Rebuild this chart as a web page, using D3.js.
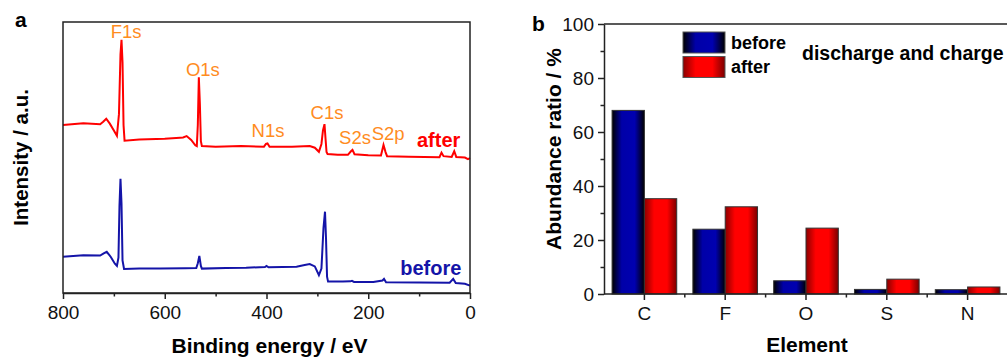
<!DOCTYPE html>
<html>
<head>
<meta charset="utf-8">
<script src="https://cdn.jsdelivr.net/npm/d3@7"></script>
<style>
  body { margin: 0; background: #fff; }
  svg { display: block; font-family: "Liberation Sans", Arial, sans-serif; }
</style>
</head>
<body>
<svg id="chart" width="1007" height="357"></svg>
<script>
// ---- panel a: XPS survey spectra, [binding energy (eV), intensity (a.u.)]
const afterSpectrum = [
  [800, 62.0], [760, 62.6], [727, 62.3], [721, 63.2], [715, 64.3], [708, 62.5], [700, 60.0],
  [694, 58.0], [690, 66], [687, 88], [685, 93.4], [683, 85], [681, 62], [679, 56.2],
  [650, 56.6], [600, 56.9], [570, 57.3], [564, 57.4], [557, 57.9], [548, 56.5], [540, 54.5],
  [537, 54.2], [535, 62], [533, 79.6], [531, 70], [529, 56], [527, 54.2], [500, 54.0],
  [450, 54.2], [405, 54.0], [401, 55.0], [398, 55.2], [394, 54.0], [350, 54.0], [315, 54.2],
  [305, 53.6], [297, 52.1], [292, 55], [289, 60], [286, 62.3], [284, 57], [282, 52], [280, 51.3],
  [260, 51.0], [240, 51.0], [234, 52.3], [231, 52.8], [227, 51.2], [200, 50.8], [175, 50.7],
  [170, 54.6], [166, 52], [163, 50.5], [120, 50.3], [60, 50.1], [56, 51.8], [52, 50.5],
  [36, 50.2], [31, 52.3], [27, 50.2], [10, 50.0], [4, 49.4], [0, 49.8]
];
const beforeSpectrum = [
  [800, 13.4], [760, 13.9], [727, 13.8], [720, 14.6], [714, 15.2], [706, 13.3], [698, 10.8],
  [694, 10.0], [691, 13], [689, 32], [687, 42.1], [685, 33], [683, 12], [680, 8.9],
  [650, 9.0], [609, 9.0], [560, 9.1], [538, 9.2], [535, 11], [532, 13.7], [529, 10], [527, 9.0],
  [480, 9.2], [440, 9.3], [403, 9.6], [400, 10.0], [396, 9.5], [341, 9.7], [325, 10.3],
  [315, 10.7], [305, 9.8], [297, 6.6], [292, 9], [288, 24], [285, 30], [283, 20], [281, 6],
  [279, 4.2], [250, 4.2], [235, 4.3], [232, 4.5], [228, 4.1], [190, 4.1], [172, 4.6],
  [169, 5.2], [165, 4.0], [100, 3.9], [40, 3.8], [33, 5.2], [28, 3.7], [10, 3.4], [0, 2.7]
];
// peak name, label centre (eV), label baseline (a.u.)
const peakLabels = [
  ['F1s', 676, 94], ['O1s', 525, 80], ['N1s', 397, 57.7],
  ['C1s', 281, 64.1], ['S2s', 226, 55], ['S2p', 161, 56.5]
];
const energyTicks = [800, 600, 400, 200, 0];
const energyMinorTicks = [700, 500, 300, 100];

// ---- panel b: element abundance
const elements = ['C', 'F', 'O', 'S', 'N'];
const seriesNames = ['before', 'after'];
const beforeRatio = [68.0, 24.0, 4.9, 1.7, 1.6];
const afterRatio = [35.3, 32.3, 24.4, 5.5, 2.6];
const ratioTicks = [0, 20, 40, 60, 80, 100];
const ratioMinorTicks = [10, 30, 50, 70, 90];

const svg = d3.select('#chart');
const axisColor = '#222';
const blue = '#1414a8';
const red = '#ff0000';
const orange = '#ff8c1e';

// gradients for the bars (dark edges, bright centre)
const defs = svg.append('defs');
const gradients = [
  ['grad-before', ['#000000', '#0000a8', '#0000b0', '#000000']],
  ['grad-after', ['#8c0000', '#ff0000', '#ff0000', '#7a0000']]
];
gradients.forEach(([id, colors]) => {
  const g = defs.append('linearGradient').attr('id', id)
    .attr('x1', '0%').attr('x2', '100%').attr('y1', '0%').attr('y2', '0%');
  [0, 0.3, 0.7, 1].forEach((o, i) => g.append('stop').attr('offset', o).attr('stop-color', colors[i]));
});

// ================= panel a =================
const a = { left: 63, right: 470, top: 22, bottom: 293 };
const xA = d3.scaleLinear().domain([800, 0]).range([a.left, a.right]);
const yA = d3.scaleLinear().domain([0, 100]).range([a.bottom, a.top]);

const line = d3.line().x((d) => xA(d[0])).y((d) => yA(d[1]));

svg.append('path').datum(afterSpectrum)
  .attr('fill', 'none').attr('stroke', red).attr('stroke-width', 2).attr('d', line);
svg.append('path').datum(beforeSpectrum)
  .attr('fill', 'none').attr('stroke', blue).attr('stroke-width', 2).attr('d', line);

// frame
svg.append('rect')
  .attr('x', a.left).attr('y', a.top)
  .attr('width', a.right - a.left).attr('height', a.bottom - a.top)
  .attr('fill', 'none').attr('stroke', axisColor).attr('stroke-width', 1.5);

svg.append('g').attr('transform', `translate(0,${a.bottom})`)
  .call(d3.axisBottom(xA).tickValues(energyTicks).tickSize(6).tickSizeOuter(0).tickPadding(7));
svg.append('g').attr('transform', `translate(0,${a.bottom})`)
  .call(d3.axisBottom(xA).tickValues(energyMinorTicks).tickSize(3.5).tickSizeOuter(0).tickFormat(''))
  .select('.domain').remove();

// peak labels
svg.append('g').selectAll('text').data(peakLabels).enter().append('text')
  .attr('x', (d) => xA(d[1])).attr('y', (d) => yA(d[2]))
  .attr('text-anchor', 'middle').attr('fill', orange)
  .style('font-size', '18.5px').text((d) => d[0]);

svg.append('text').attr('x', xA(19)).attr('y', yA(54)).attr('text-anchor', 'end')
  .attr('fill', red).style('font-size', '20px').style('font-weight', 'bold').text('after');
svg.append('text').attr('x', xA(17)).attr('y', yA(6.6)).attr('text-anchor', 'end')
  .attr('fill', blue).style('font-size', '20px').style('font-weight', 'bold').text('before');

svg.append('text').attr('x', (a.left + a.right) / 2 + 3).attr('y', 353).attr('text-anchor', 'middle')
  .style('font-size', '21px').style('font-weight', 'bold').text('Binding energy / eV');
svg.append('text').attr('transform', `translate(28,${(a.top + a.bottom) / 2}) rotate(-90)`)
  .attr('text-anchor', 'middle').style('font-size', '20.5px').style('font-weight', 'bold')
  .text('Intensity / a.u.');
svg.append('text').attr('x', 15).attr('y', 27).style('font-size', '21px').style('font-weight', 'bold').text('a');

// ================= panel b =================
const b = { left: 604, right: 1008, top: 24, bottom: 294 };
const xB = d3.scaleBand().domain(elements).range([b.left, b.right]).paddingInner(0.2).paddingOuter(0.1);
const xSeries = d3.scaleBand().domain(seriesNames).range([0, xB.bandwidth()]);
const yB = d3.scaleLinear().domain([0, 100]).range([b.bottom, b.top]);

const rows = elements.map((el, i) => ({ el, before: beforeRatio[i], after: afterRatio[i] }));

const groups = svg.append('g').selectAll('g').data(rows).enter().append('g')
  .attr('transform', (d) => `translate(${xB(d.el)},0)`);
groups.selectAll('rect').data((d) => seriesNames.map((s) => ({ s, v: d[s] }))).enter().append('rect')
  .attr('x', (d) => xSeries(d.s)).attr('width', xSeries.bandwidth())
  .attr('y', (d) => yB(d.v)).attr('height', (d) => yB(0) - yB(d.v))
  .attr('fill', (d) => `url(#grad-${d.s})`).attr('stroke', '#333').attr('stroke-width', 1);

// top spine
svg.append('line').attr('x1', b.left).attr('x2', b.right).attr('y1', b.top).attr('y2', b.top)
  .attr('stroke', axisColor).attr('stroke-width', 1.5);

// y axis
svg.append('g').attr('transform', `translate(${b.left},0)`)
  .call(d3.axisLeft(yB).tickValues(ratioTicks).tickSize(6).tickSizeOuter(0).tickPadding(4));
svg.append('g').attr('transform', `translate(${b.left},0)`)
  .call(d3.axisLeft(yB).tickValues(ratioMinorTicks).tickSize(3.5).tickFormat(''))
  .select('.domain').remove();

// x axis: major ticks at element centres, minor between them
const xAxisB = svg.append('g').attr('transform', `translate(0,${b.bottom})`);
xAxisB.append('line').attr('x1', b.left).attr('x2', b.right).attr('stroke', axisColor).attr('stroke-width', 1.5);
xAxisB.selectAll('.major').data(elements).enter().append('g').attr('class', 'major')
  .attr('transform', (d) => `translate(${xB(d) + xB.bandwidth() / 2},0)`)
  .call((g) => {
    g.append('line').attr('y2', 6).attr('stroke', axisColor).attr('stroke-width', 1.5);
    g.append('text').attr('y', 26).attr('text-anchor', 'middle').attr('fill', '#111')
      .style('font-size', '19px').text((d) => d);
  });
xAxisB.selectAll('.minor').data(elements).enter().append('line').attr('class', 'minor')
  .attr('x1', (d) => xB(d) + xB.bandwidth() / 2 + xB.step() / 2)
  .attr('x2', (d) => xB(d) + xB.bandwidth() / 2 + xB.step() / 2)
  .attr('y2', 3.5).attr('stroke', axisColor).attr('stroke-width', 1.5);

// legend
const legend = svg.append('g').attr('transform', 'translate(683,32)');
seriesNames.forEach((s, i) => {
  legend.append('rect').attr('x', 0).attr('y', i * 24.5).attr('width', 42).attr('height', 21)
    .attr('fill', `url(#grad-${s})`).attr('stroke', '#555').attr('stroke-width', 1);
  legend.append('text').attr('x', 48).attr('y', i * 24.5 + 16.5)
    .style('font-size', '18px').style('font-weight', 'bold').text(s);
});
svg.append('text').attr('x', 802).attr('y', 60).style('font-size', '19.5px').style('font-weight', 'bold')
  .text('discharge and charge');

svg.append('text').attr('x', 807).attr('y', 352).attr('text-anchor', 'middle')
  .style('font-size', '21px').style('font-weight', 'bold').text('Element');
svg.append('text').attr('transform', 'translate(561,149) rotate(-90)')
  .attr('text-anchor', 'middle').style('font-size', '21px').style('font-weight', 'bold')
  .text('Abundance ratio / %');
svg.append('text').attr('x', 532).attr('y', 31).style('font-size', '21px').style('font-weight', 'bold').text('b');

// axis styling
svg.selectAll('.domain').attr('stroke', axisColor).attr('stroke-width', 1.5);
svg.selectAll('.tick line').attr('stroke', axisColor).attr('stroke-width', 1.5);
svg.selectAll('.tick text').attr('fill', '#111').style('font-size', '19px')
  .style('font-family', '"Liberation Sans", Arial, sans-serif');
</script>
</body>
</html>
